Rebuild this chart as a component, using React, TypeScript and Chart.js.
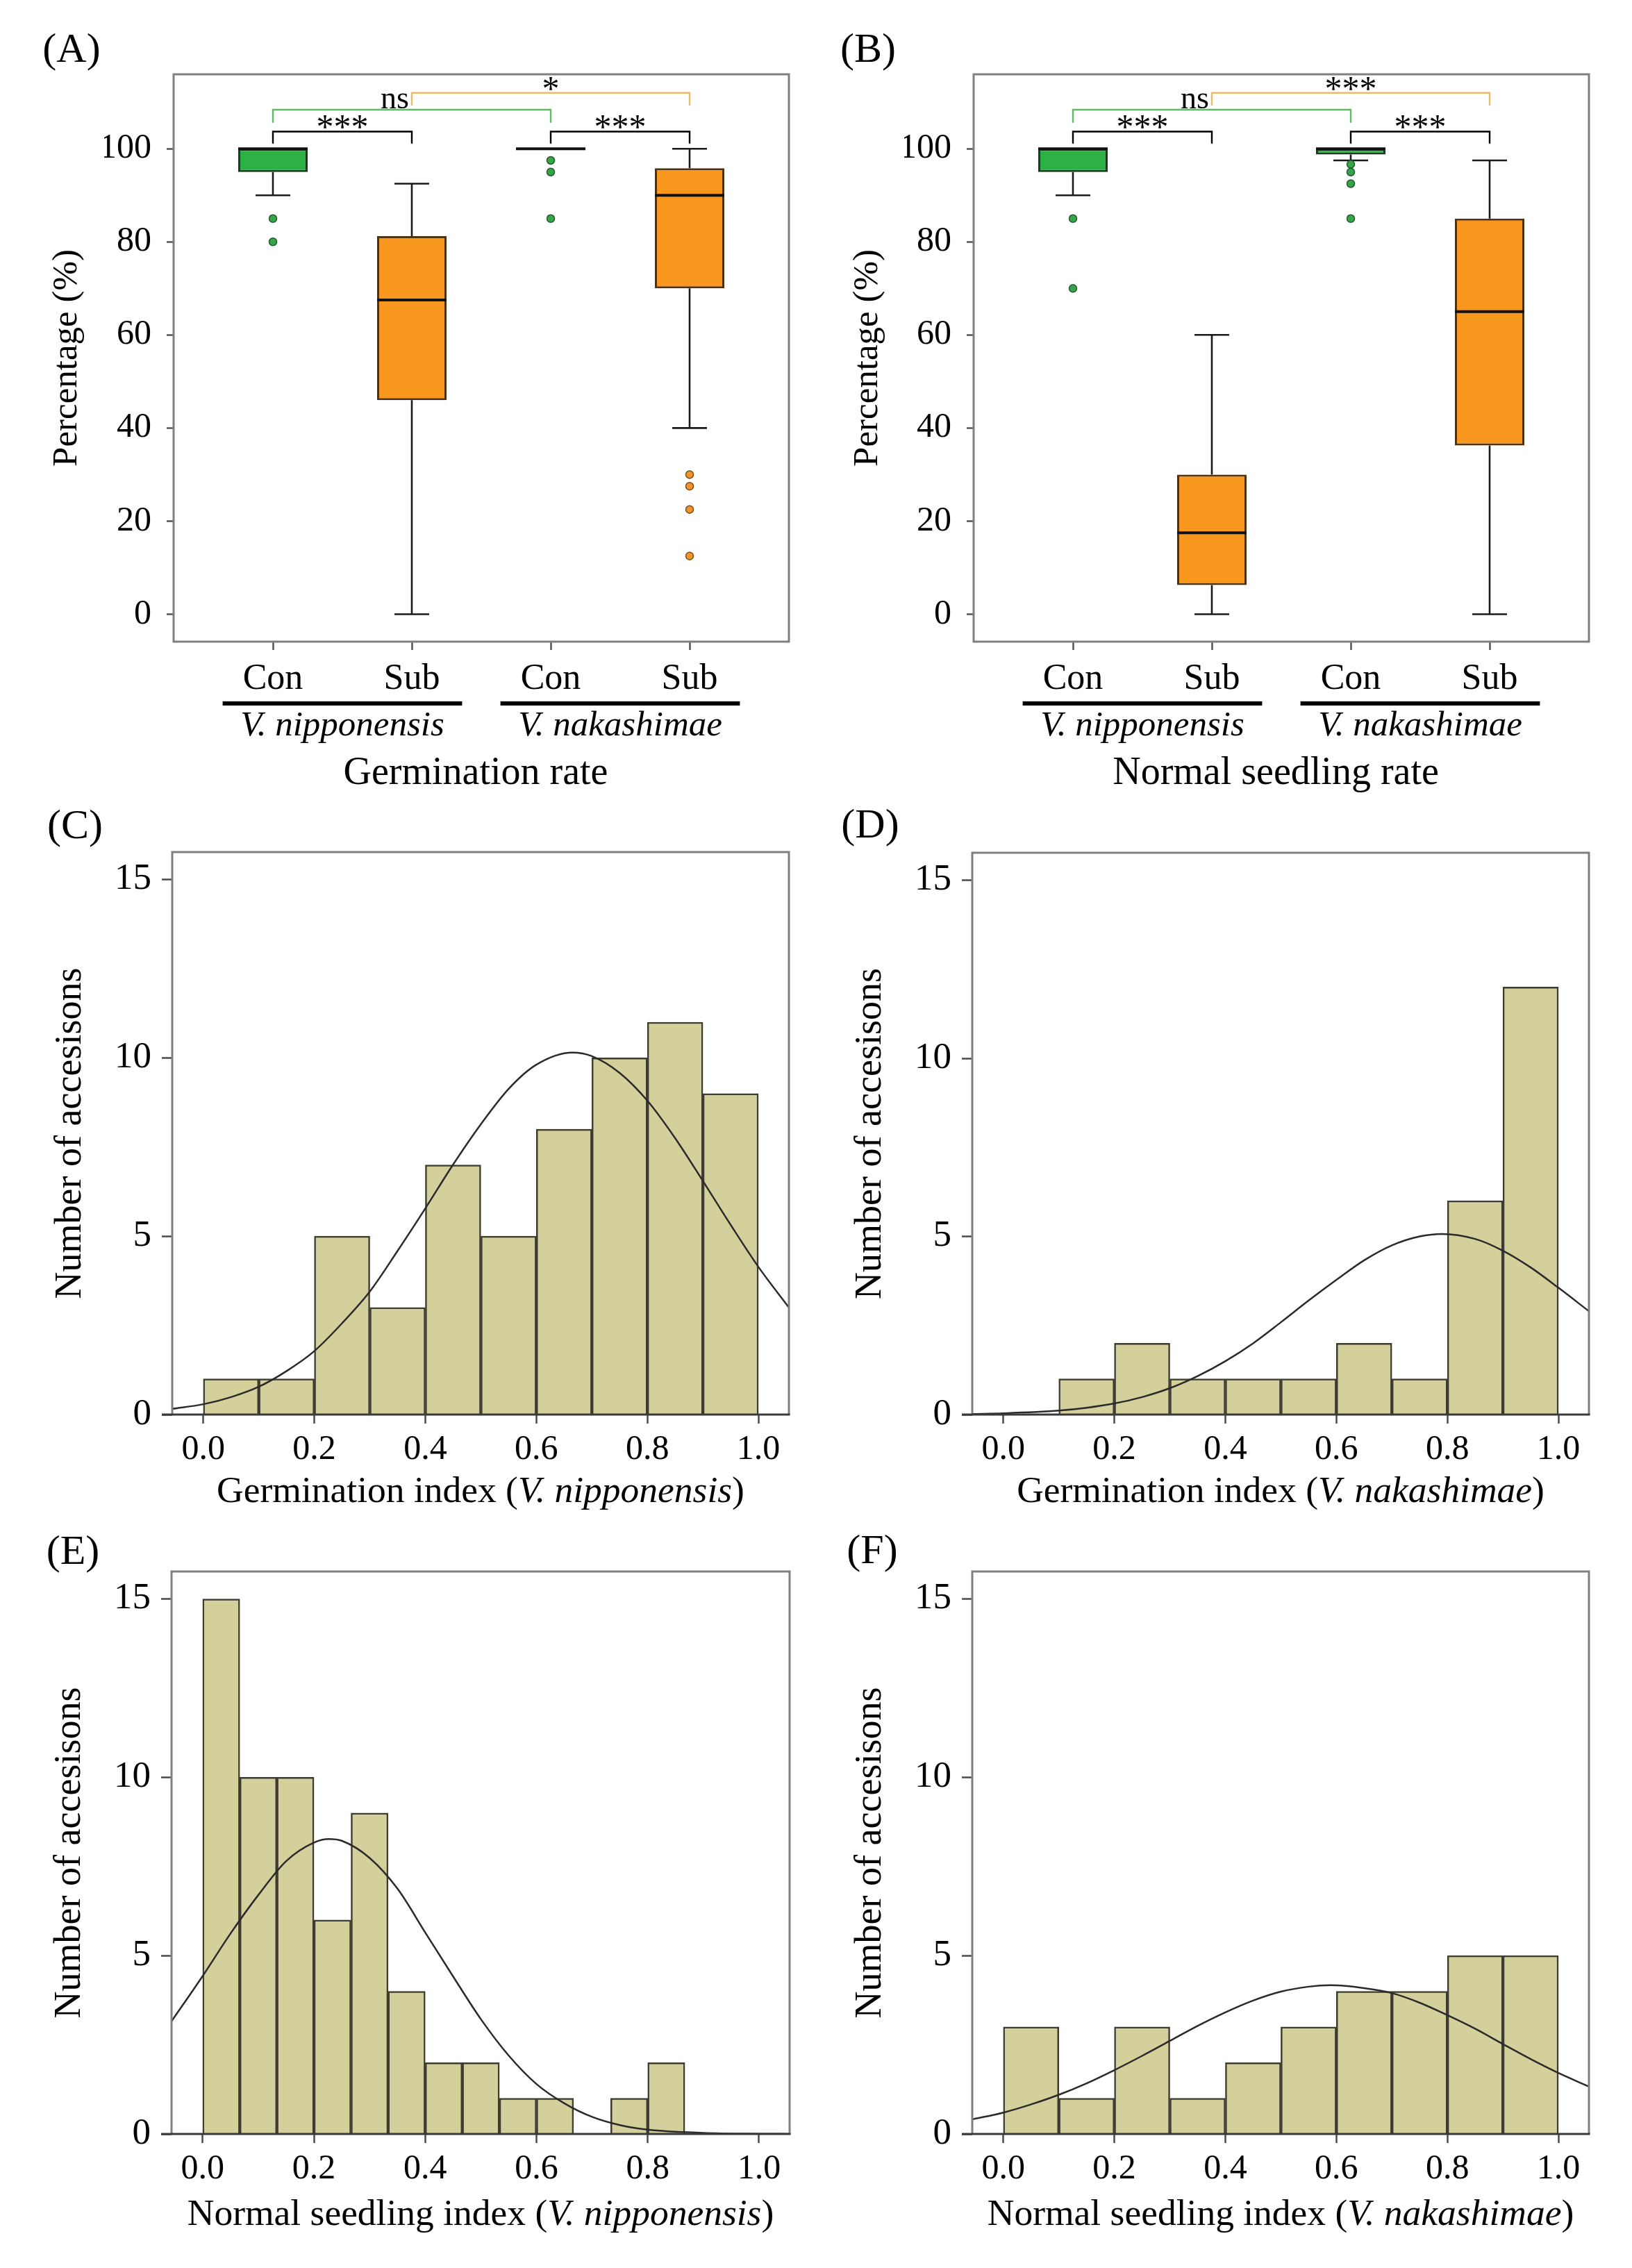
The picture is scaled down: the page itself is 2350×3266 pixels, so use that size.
import React, { useEffect, useRef } from 'react';
import { Chart, registerables } from 'chart.js';

Chart.register(...registerables);

const SERIF = "'Liberation Serif', 'Times New Roman', Times, serif";

// ---------- Box plots: germination rate / normal seedling rate ----------
const GROUP_LABELS = ['Con', 'Sub', 'Con', 'Sub'];
const SPECIES_NAMES = ['V. nipponensis', 'V. nakashimae'];
const PERCENT_TICKS = [0, 20, 40, 60, 80, 100];

const germWhiskerLow = [90, 0, 100, 40];
const germQ1 = [95, 46, 100, 70];
const germMedian = [100, 67.5, 100, 90];
const germQ3 = [100, 81.25, 100, 95.83];
const germWhiskerHigh = [100, 92.5, 100, 100];
const germOutliers = [[85, 80], [], [97.5, 95, 85], [30, 27.5, 22.5, 12.5]];

const seedWhiskerLow = [90, 0, 97.5, 0];
const seedQ1 = [95, 6.25, 98.75, 36.25];
const seedMedian = [100, 17.5, 100, 65];
const seedQ3 = [100, 30, 100, 85];
const seedWhiskerHigh = [100, 60, 100, 97.5];
const seedOutliers = [[85, 70], [], [96.67, 95, 92.5, 85], []];

// pairwise comparisons (group index pairs) and their significance marks
const COMPARISONS = [[0, 2], [1, 3], [0, 1], [2, 3]];
const germSignif = ['ns', '*', '***', '***'];
const seedSignif = ['ns', '***', '***', '***'];

// ---------- Histograms ----------
const INDEX_TICKS = [0, 0.2, 0.4, 0.6, 0.8, 1.0];
const COUNT_TICKS = [0, 5, 10, 15];

const giNipCounts = [1, 1, 5, 3, 7, 5, 8, 10, 11, 9];
const giNipCurveX = [-0.056, 0, 0.05, 0.1, 0.15, 0.2, 0.25, 0.3, 0.35, 0.4, 0.45, 0.5, 0.55, 0.6, 0.665, 0.7, 0.75, 0.8, 0.85, 0.9, 0.95, 1.0, 1.055];
const giNipCurveY = [0.16, 0.29, 0.49, 0.78, 1.22, 1.78, 2.56, 3.45, 4.59, 5.78, 7.01, 8.14, 9.13, 9.81, 10.15, 10.05, 9.58, 8.8, 7.75, 6.55, 5.32, 4.14, 3.0];

const giNakCounts = [0, 1, 2, 1, 1, 1, 2, 1, 6, 12];
const giNakCurveX = [-0.056, 0, 0.1, 0.15, 0.2, 0.25, 0.3, 0.35, 0.4, 0.45, 0.5, 0.55, 0.6, 0.65, 0.7, 0.75, 0.79, 0.85, 0.9, 0.95, 1.0, 1.055];
const giNakCurveY = [0.016, 0.035, 0.11, 0.19, 0.31, 0.49, 0.74, 1.08, 1.5, 2.0, 2.59, 3.2, 3.78, 4.33, 4.75, 5.0, 5.07, 4.93, 4.6, 4.13, 3.56, 2.9];

const nsiNipCounts = [15, 10, 10, 6, 9, 4, 2, 2, 1, 1, 0, 1, 2, 0, 0];
const nsiNipCurveX = [-0.056, 0, 0.05, 0.1, 0.15, 0.2, 0.227, 0.25, 0.3, 0.35, 0.4, 0.45, 0.5, 0.55, 0.6, 0.65, 0.7, 0.75, 0.8, 0.9, 1.0, 1.055];
const nsiNipCurveY = [3.16, 4.43, 5.62, 6.7, 7.65, 8.17, 8.27, 8.22, 7.74, 6.88, 5.65, 4.42, 3.22, 2.2, 1.4, 0.86, 0.48, 0.25, 0.12, 0.03, 0.006, 0.002];

const nsiNakCounts = [3, 1, 3, 1, 2, 3, 4, 4, 5, 5];
const nsiNakCurveX = [-0.056, 0, 0.05, 0.1, 0.15, 0.2, 0.25, 0.3, 0.35, 0.4, 0.45, 0.5, 0.55, 0.59, 0.65, 0.7, 0.75, 0.8, 0.85, 0.9, 0.95, 1.0, 1.055];
const nsiNakCurveY = [0.41, 0.6, 0.83, 1.1, 1.42, 1.79, 2.19, 2.61, 3.03, 3.41, 3.74, 3.99, 4.13, 4.17, 4.09, 3.95, 3.68, 3.33, 2.95, 2.52, 2.1, 1.71, 1.33];

// ---------- styling ----------
const INK = '#000000';
const FRAME = '#808080';
const TICK = '#555555';
const GREEN_FILL = '#2fb045';
const GREEN_EDGE = '#1d3a22';
const ORANGE_FILL = '#f7971e';
const ORANGE_EDGE = '#4e3212';
const GREEN_DOT = '#38a34b';
const GREEN_DOT_EDGE = '#1d5e2a';
const ORANGE_DOT = '#f0952c';
const ORANGE_DOT_EDGE = '#7a4c14';
const BRACKET_GREEN = '#62b964';
const BRACKET_GOLD = '#e9bc6a';
const KHAKI = '#d4d09c';
const BAR_EDGE = '#3c3c30';
const CURVE = '#2a2a2a';

const BRACKET_LEVEL = [108.4, 112.0, 103.7, 103.7];
const BRACKET_DROP = [2.8, 2.7, 2.6, 2.6];
const BRACKET_COLOR = [BRACKET_GREEN, BRACKET_GOLD, INK, INK];

const font = (size: number, italic = false) => `${italic ? 'italic ' : ''}${size}px ${SERIF}`;

type Run = [string, boolean];

function drawRuns(ctx: CanvasRenderingContext2D, runs: Run[], cx: number, y: number, size: number) {
  const widths = runs.map(([t, it]) => {
    ctx.font = font(size, it);
    return ctx.measureText(t).width;
  });
  const total = widths.reduce((a, b) => a + b, 0);
  let x = cx - total / 2;
  ctx.textAlign = 'left';
  runs.forEach(([t, it], i) => {
    ctx.font = font(size, it);
    ctx.fillText(t, x, y);
    x += widths[i];
  });
}

function strokeFrame(ctx: CanvasRenderingContext2D, a: any, histogram: boolean) {
  ctx.save();
  ctx.strokeStyle = FRAME;
  ctx.lineWidth = 3;
  ctx.beginPath();
  if (histogram) {
    ctx.moveTo(a.left, a.bottom);
    ctx.lineTo(a.left, a.top);
    ctx.lineTo(a.right, a.top);
    ctx.lineTo(a.right, a.bottom);
  } else {
    ctx.rect(a.left, a.top, a.right - a.left, a.bottom - a.top);
  }
  ctx.stroke();
  if (histogram) {
    ctx.strokeStyle = '#3a3a3a';
    ctx.beginPath();
    ctx.moveTo(a.left - 15, a.bottom);
    ctx.lineTo(a.right + 1.5, a.bottom);
    ctx.stroke();
  }
  ctx.restore();
}

interface BoxPanel {
  letter: string;
  title: string;
  low: number[];
  q1: number[];
  median: number[];
  q3: number[];
  high: number[];
  outliers: number[][];
  signif: string[];
  padding: { left: number; right: number; top: number; bottom: number };
  letterDx: number;
  yTitleDx: number;
}

function boxConfig(b: BoxPanel): any {
  const boxes = b.q1.map((q1, i) => ({ x: i, y: [q1, b.q3[i]] }));
  const conPts: { x: number; y: number }[] = [];
  const subPts: { x: number; y: number }[] = [];
  b.outliers.forEach((arr, i) => arr.forEach((v) => (i % 2 === 0 ? conPts : subPts).push({ x: i, y: v })));

  const parts = {
    id: 'boxParts',
    beforeDatasetsDraw(chart: any) {
      const { ctx } = chart;
      const xs = chart.scales.x;
      const ys = chart.scales.y;
      ctx.save();
      ctx.strokeStyle = '#1a1a1a';
      ctx.lineWidth = 2.6;
      b.q1.forEach((q1, i) => {
        const px = xs.getPixelForValue(i);
        const capL = xs.getPixelForValue(i - 0.125);
        const capR = xs.getPixelForValue(i + 0.125);
        ctx.beginPath();
        ctx.moveTo(px, ys.getPixelForValue(b.q3[i]));
        ctx.lineTo(px, ys.getPixelForValue(b.high[i]));
        ctx.moveTo(px, ys.getPixelForValue(q1));
        ctx.lineTo(px, ys.getPixelForValue(b.low[i]));
        ctx.moveTo(capL, ys.getPixelForValue(b.high[i]));
        ctx.lineTo(capR, ys.getPixelForValue(b.high[i]));
        ctx.moveTo(capL, ys.getPixelForValue(b.low[i]));
        ctx.lineTo(capR, ys.getPixelForValue(b.low[i]));
        ctx.stroke();
      });
      ctx.restore();
    },
    afterDatasetsDraw(chart: any) {
      const { ctx, chartArea } = chart;
      const xs = chart.scales.x;
      const ys = chart.scales.y;
      ctx.save();
      // medians
      ctx.strokeStyle = '#111111';
      ctx.lineWidth = 4;
      b.median.forEach((m, i) => {
        const py = ys.getPixelForValue(m);
        ctx.beginPath();
        ctx.moveTo(xs.getPixelForValue(i - 0.25), py);
        ctx.lineTo(xs.getPixelForValue(i + 0.25), py);
        ctx.stroke();
      });
      // significance brackets
      COMPARISONS.forEach(([a, c], k) => {
        const xa = xs.getPixelForValue(a);
        const xc = xs.getPixelForValue(c);
        const yl = ys.getPixelForValue(BRACKET_LEVEL[k]);
        const yd = ys.getPixelForValue(BRACKET_LEVEL[k] - BRACKET_DROP[k]);
        ctx.strokeStyle = BRACKET_COLOR[k];
        ctx.lineWidth = 2.4;
        ctx.beginPath();
        ctx.moveTo(xa, yd);
        ctx.lineTo(xa, yl);
        ctx.lineTo(xc, yl);
        ctx.lineTo(xc, yd);
        ctx.stroke();
        ctx.fillStyle = INK;
        ctx.textBaseline = 'alphabetic';
        const mark = b.signif[k];
        if (mark === 'ns') {
          ctx.font = font(46);
          ctx.textAlign = 'right';
          ctx.fillText(mark, xs.getPixelForValue(1) - 4, yl - 2);
        } else {
          ctx.font = font(50);
          ctx.textAlign = 'center';
          ctx.fillText(mark, (xa + xc) / 2, yl + 10);
        }
      });
      ctx.restore();
      strokeFrame(ctx, chartArea, false);
    },
    afterDraw(chart: any) {
      const { ctx, chartArea } = chart;
      const { left, right, top, bottom } = chartArea;
      const xs = chart.scales.x;
      ctx.save();
      ctx.fillStyle = INK;
      ctx.textAlign = 'center';
      ctx.textBaseline = 'middle';
      ctx.font = font(60);
      ctx.fillText(b.letter, left + b.letterDx, top - 34);
      SPECIES_NAMES.forEach((name, g) => {
        const c = 2 * g + 0.5;
        const x0 = xs.getPixelForValue(c - 0.862);
        const x1 = xs.getPixelForValue(c + 0.862);
        ctx.fillRect(x0, bottom + 86, x1 - x0, 6);
        ctx.font = font(51, true);
        ctx.fillText(name, xs.getPixelForValue(c), bottom + 122);
      });
      ctx.font = font(56);
      ctx.fillText(b.title, (left + right) / 2 - 8, bottom + 190);
      ctx.translate(left + b.yTitleDx, (top + bottom) / 2);
      ctx.rotate(-Math.PI / 2);
      ctx.font = font(51);
      ctx.fillText('Percentage (%)', 0, 0);
      ctx.restore();
    },
  };

  return {
    type: 'bar',
    data: {
      datasets: [
        {
          type: 'line',
          data: conPts,
          showLine: false,
          pointRadius: 5.5,
          pointBackgroundColor: GREEN_DOT,
          pointBorderColor: GREEN_DOT_EDGE,
          pointBorderWidth: 1.5,
          order: 0,
        },
        {
          type: 'line',
          data: subPts,
          showLine: false,
          pointRadius: 5.5,
          pointBackgroundColor: ORANGE_DOT,
          pointBorderColor: ORANGE_DOT_EDGE,
          pointBorderWidth: 1.5,
          order: 0,
        },
        {
          type: 'bar',
          data: boxes,
          backgroundColor: boxes.map((_, i) => (i % 2 === 0 ? GREEN_FILL : ORANGE_FILL)),
          borderColor: boxes.map((_, i) => (i % 2 === 0 ? GREEN_EDGE : ORANGE_EDGE)),
          borderWidth: 3,
          borderSkipped: false,
          barPercentage: 0.5,
          categoryPercentage: 1,
          grouped: false,
          order: 1,
        },
      ],
    },
    options: {
      responsive: false,
      animation: false,
      devicePixelRatio: 1,
      events: [],
      layout: { padding: b.padding },
      plugins: { legend: { display: false }, tooltip: { enabled: false } },
      scales: {
        x: {
          type: 'linear',
          min: -0.715,
          max: 3.715,
          offset: false,
          afterBuildTicks: (s: any) => {
            s.ticks = GROUP_LABELS.map((_, i) => ({ value: i }));
          },
          afterFit: (s: any) => {
            s.height = 100;
          },
          ticks: {
            callback: (v: number) => GROUP_LABELS[Math.round(v)],
            font: { family: SERIF, size: 52 },
            color: INK,
            padding: 11,
            maxRotation: 0,
            autoSkip: false,
          },
          grid: { drawOnChartArea: false, drawTicks: true, tickLength: 12, tickColor: TICK, tickWidth: 2.5, offset: false },
          border: { display: false },
        },
        y: {
          type: 'linear',
          min: -5.9,
          max: 116,
          afterBuildTicks: (s: any) => {
            s.ticks = PERCENT_TICKS.map((v) => ({ value: v }));
          },
          afterFit: (s: any) => {
            s.width = 100;
          },
          ticks: { font: { family: SERIF, size: 50 }, color: INK, padding: 22 },
          grid: { drawOnChartArea: false, drawTicks: true, tickLength: 10, tickColor: TICK, tickWidth: 2.5 },
          border: { display: false },
        },
      },
    },
    plugins: [parts],
  };
}

interface HistPanel {
  letter: string;
  counts: number[];
  curveX: number[];
  curveY: number[];
  xTitle: Run[];
  padding: { left: number; right: number; top: number; bottom: number };
  letterDx: number;
  letterDy: number;
  titleGap: number;
}

function histConfig(h: HistPanel): any {
  const w = 1 / h.counts.length;
  const bars = h.counts.map((c, i) => ({ x: (i + 0.5) * w, y: c }));
  const curve = h.curveX.map((x, i) => ({ x, y: h.curveY[i] }));

  const decor = {
    id: 'histDecor',
    afterDatasetsDraw(chart: any) {
      strokeFrame(chart.ctx, chart.chartArea, true);
    },
    afterDraw(chart: any) {
      const { ctx, chartArea } = chart;
      const { left, right, top, bottom } = chartArea;
      ctx.save();
      ctx.fillStyle = INK;
      ctx.textAlign = 'center';
      ctx.textBaseline = 'middle';
      ctx.font = font(60);
      ctx.fillText(h.letter, left + h.letterDx, top + h.letterDy);
      ctx.textBaseline = 'alphabetic';
      drawRuns(ctx, h.xTitle, (left + right) / 2, bottom + h.titleGap, 53.5);
      ctx.translate(left - 146, (top + bottom) / 2);
      ctx.rotate(-Math.PI / 2);
      ctx.textAlign = 'center';
      ctx.textBaseline = 'middle';
      ctx.font = font(54);
      ctx.fillText('Number of accesisons', 0, 0);
      ctx.restore();
    },
  };

  return {
    type: 'bar',
    data: {
      datasets: [
        {
          type: 'line',
          data: curve,
          borderColor: CURVE,
          borderWidth: 2.5,
          pointRadius: 0,
          cubicInterpolationMode: 'monotone',
          fill: false,
          order: 0,
        },
        {
          type: 'bar',
          data: bars,
          backgroundColor: KHAKI,
          borderColor: BAR_EDGE,
          borderWidth: 2.5,
          barPercentage: 1,
          categoryPercentage: 1,
          grouped: false,
          order: 1,
        },
      ],
    },
    options: {
      responsive: false,
      animation: false,
      devicePixelRatio: 1,
      events: [],
      layout: { padding: h.padding },
      plugins: { legend: { display: false }, tooltip: { enabled: false } },
      scales: {
        x: {
          type: 'linear',
          min: -0.056,
          max: 1.055,
          offset: false,
          afterBuildTicks: (s: any) => {
            s.ticks = INDEX_TICKS.map((v) => ({ value: v }));
          },
          afterFit: (s: any) => {
            s.height = 100;
          },
          ticks: {
            callback: (v: number) => Number(v).toFixed(1),
            font: { family: SERIF, size: 50 },
            color: INK,
            padding: 8,
            maxRotation: 0,
            autoSkip: false,
          },
          grid: { drawOnChartArea: false, drawTicks: true, tickLength: 13, tickColor: '#4a4a4a', tickWidth: 2.5, offset: false },
          border: { display: false },
        },
        y: {
          type: 'linear',
          min: 0,
          max: 15.77,
          afterBuildTicks: (s: any) => {
            s.ticks = COUNT_TICKS.map((v) => ({ value: v }));
          },
          afterFit: (s: any) => {
            s.width = 100;
          },
          ticks: { font: { family: SERIF, size: 53 }, color: INK, padding: 15 },
          grid: { drawOnChartArea: false, drawTicks: true, tickLength: 15, tickColor: '#4a4a4a', tickWidth: 2.5 },
          border: { display: false },
        },
      },
    },
    plugins: [decor],
  };
}

const PANEL_A: BoxPanel = {
  letter: '(A)',
  title: 'Germination rate',
  low: germWhiskerLow,
  q1: germQ1,
  median: germMedian,
  q3: germQ3,
  high: germWhiskerHigh,
  outliers: germOutliers,
  signif: germSignif,
  padding: { left: 150, right: 39, top: 107, bottom: 126 },
  letterDx: -147,
  yTitleDx: -153,
};

const PANEL_B: BoxPanel = {
  letter: '(B)',
  title: 'Normal seedling rate',
  low: seedWhiskerLow,
  q1: seedQ1,
  median: seedMedian,
  q3: seedQ3,
  high: seedWhiskerHigh,
  outliers: seedOutliers,
  signif: seedSignif,
  padding: { left: 127, right: 62, top: 107, bottom: 126 },
  letterDx: -152,
  yTitleDx: -152,
};

const PANEL_C: HistPanel = {
  letter: '(C)',
  counts: giNipCounts,
  curveX: giNipCurveX,
  curveY: giNipCurveY,
  xTitle: [['Germination index (', false], ['V. nipponensis', true], [')', false]],
  padding: { left: 148, right: 39, top: 77, bottom: 63 },
  letterDx: -140,
  letterDy: -36,
  titleGap: 126,
};

const PANEL_D: HistPanel = {
  letter: '(D)',
  counts: giNakCounts,
  curveX: giNakCurveX,
  curveY: giNakCurveY,
  xTitle: [['Germination index (', false], ['V. nakashimae', true], [')', false]],
  padding: { left: 125, right: 62, top: 78, bottom: 63 },
  letterDx: -147,
  letterDy: -38,
  titleGap: 126,
};

const PANEL_E: HistPanel = {
  letter: '(E)',
  counts: nsiNipCounts,
  curveX: nsiNipCurveX,
  curveY: nsiNipCurveY,
  xTitle: [['Normal seedling index (', false], ['V. nipponensis', true], [')', false]],
  padding: { left: 147, right: 38, top: 63, bottom: 93 },
  letterDx: -142,
  letterDy: -27,
  titleGap: 131,
};

const PANEL_F: HistPanel = {
  letter: '(F)',
  counts: nsiNakCounts,
  curveX: nsiNakCurveX,
  curveY: nsiNakCurveY,
  xTitle: [['Normal seedling index (', false], ['V. nakashimae', true], [')', false]],
  padding: { left: 125, right: 62, top: 63, bottom: 93 },
  letterDx: -144,
  letterDy: -28,
  titleGap: 131,
};

function ChartCanvas(props: { left: number; top: number; width: number; height: number; config: () => any }) {
  const ref = useRef<HTMLCanvasElement>(null);
  useEffect(() => {
    const chart = new Chart(ref.current as HTMLCanvasElement, props.config());
    return () => chart.destroy();
  }, []);
  return (
    <canvas
      ref={ref}
      width={props.width}
      height={props.height}
      style={{ position: 'absolute', left: props.left, top: props.top, width: props.width, height: props.height }}
    />
  );
}

export default function App() {
  return (
    <div
      style={{
        position: 'absolute',
        left: 0,
        top: 0,
        width: 2350,
        height: 3266,
        background: '#ffffff',
        overflow: 'hidden',
      }}
    >
      <ChartCanvas left={0} top={0} width={1175} height={1150} config={() => boxConfig(PANEL_A)} />
      <ChartCanvas left={1175} top={0} width={1175} height={1150} config={() => boxConfig(PANEL_B)} />
      <ChartCanvas left={0} top={1150} width={1175} height={1050} config={() => histConfig(PANEL_C)} />
      <ChartCanvas left={1175} top={1150} width={1175} height={1050} config={() => histConfig(PANEL_D)} />
      <ChartCanvas left={0} top={2200} width={1175} height={1066} config={() => histConfig(PANEL_E)} />
      <ChartCanvas left={1175} top={2200} width={1175} height={1066} config={() => histConfig(PANEL_F)} />
    </div>
  );
}
